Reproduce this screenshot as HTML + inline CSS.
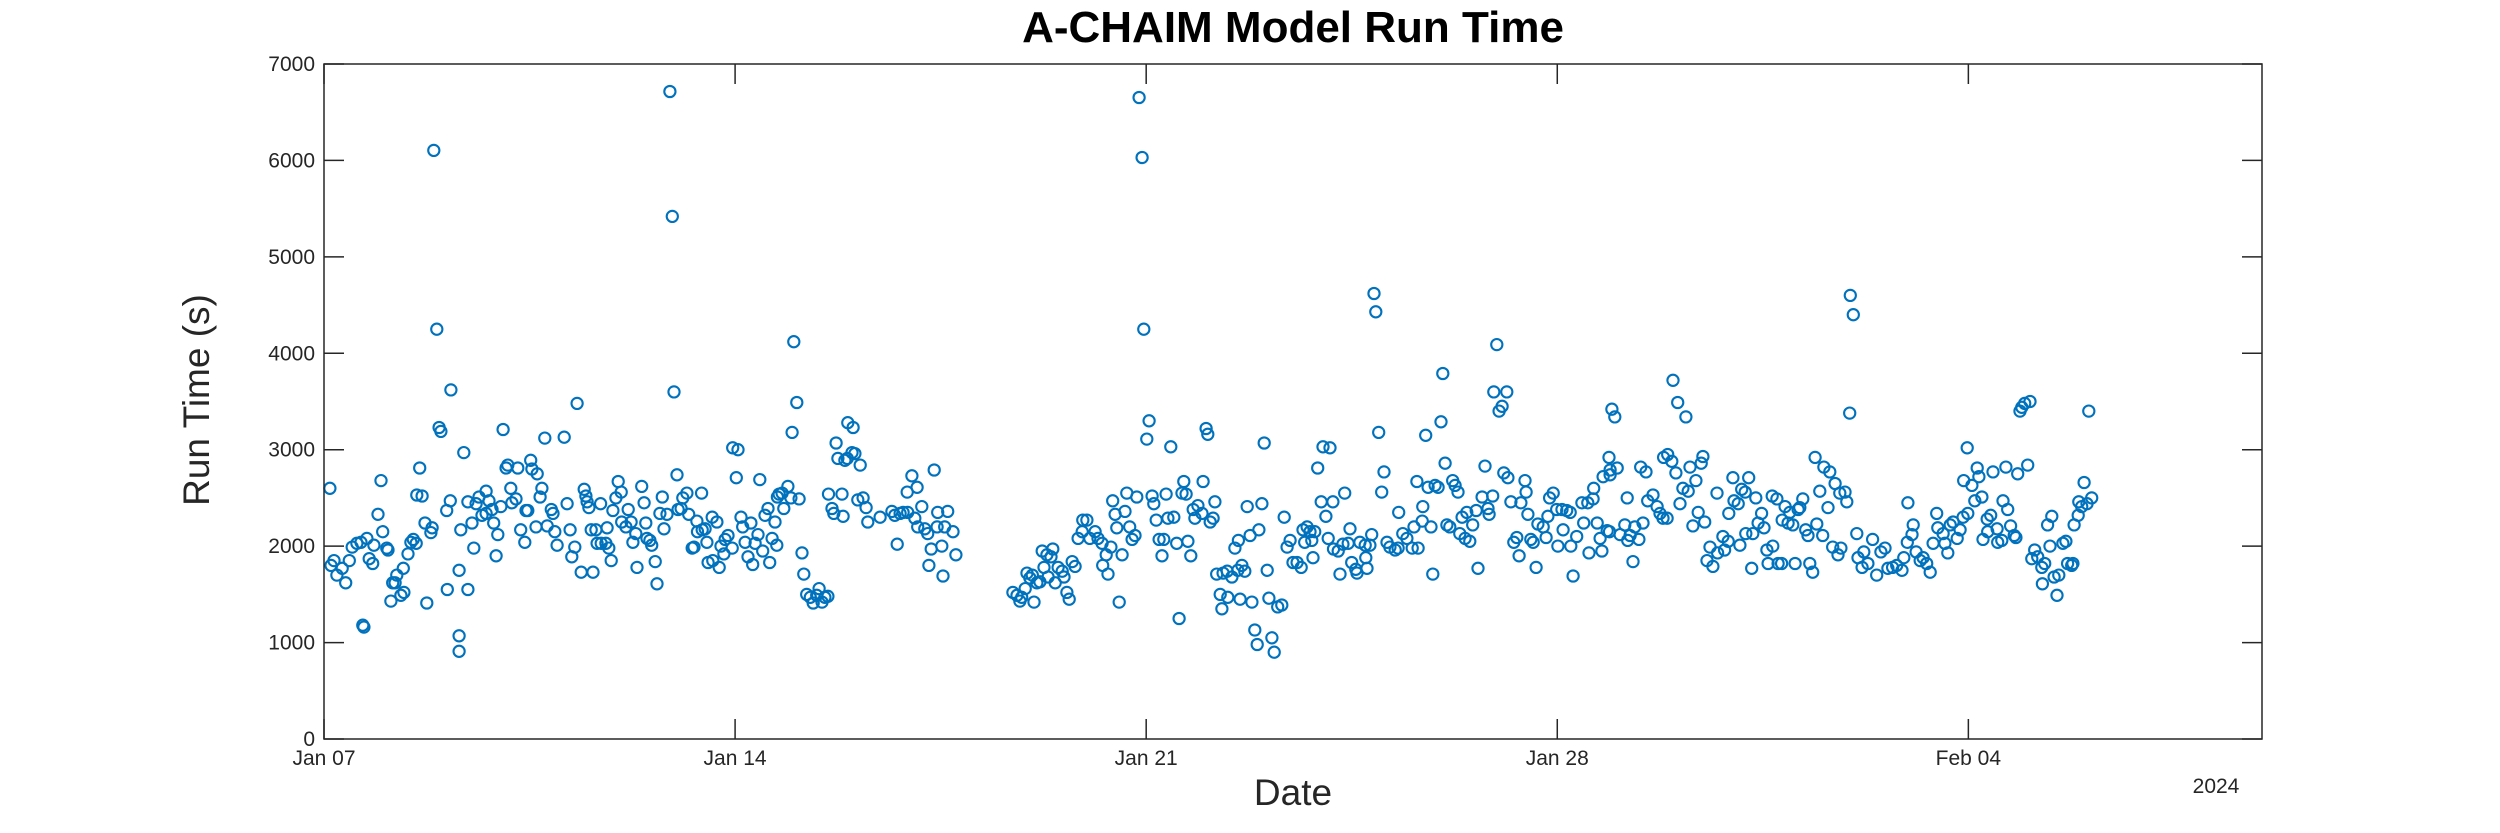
<!DOCTYPE html>
<html>
<head>
<meta charset="utf-8">
<style>
html,body{margin:0;padding:0;background:#fff;}
svg{display:block;font-family:"Liberation Sans",Arial,sans-serif;}
</style>
</head>
<body>
<svg id="chart" width="2500" height="833" viewBox="0 0 2500 833" xmlns="http://www.w3.org/2000/svg">
  <rect x="0" y="0" width="2500" height="833" fill="#ffffff"/>
  <text x="1293" y="42" text-anchor="middle" font-size="44" font-weight="bold" fill="#000">A-CHAIM Model Run Time</text>
  <g id="grid-ticks"></g>
  <g id="marks"></g>
  <rect x="324" y="64" width="1938" height="675" fill="none" stroke="#262626" stroke-width="1.5"/>
  <g id="labels"></g>
  <text x="1293" y="805" text-anchor="middle" font-size="37" fill="#262626">Date</text>
  <text x="2216" y="793" text-anchor="middle" font-size="21" fill="#262626">2024</text>
  <text transform="translate(209,400) rotate(-90)" text-anchor="middle" font-size="37" fill="#262626">Run Time (s)</text>
</svg>
<script>
// days since Jan 07 2024
const days = [
0.10,0.12,0.17,0.22,0.31,0.37,0.43,0.48,0.56,0.63,0.73,0.77,0.83,0.85,0.66,0.68,0.92,0.97,1.00,1.07,1.09,1.14,1.17,1.21,1.24,1.31,1.36,1.35,1.43,1.48,1.52,1.57,1.63,1.58,1.67,1.72,1.82,1.84,1.75,1.87,1.92,1.96,1.99,2.16,2.09,2.15,2.10,2.30,2.30,2.30,2.33,2.38,2.45,2.45,2.52,2.55,2.59,2.64,2.69,2.76,2.76,2.81,2.89,2.86,2.93,2.96,3.01,3.05,3.10,3.13,3.18,3.20,3.27,3.30,3.35,3.42,3.44,3.47,3.52,3.54,3.63,3.61,3.68,3.71,3.76,3.80,3.87,3.90,3.93,3.97,4.09,4.14,4.19,4.22,4.27,4.31,4.38,4.43,4.46,4.48,4.51,4.55,4.63,4.65,4.72,4.58,4.71,4.82,4.80,4.85,4.89,4.92,4.97,5.06,5.01,5.07,5.14,5.18,5.23,5.26,5.31,5.33,5.41,5.45,5.48,5.50,
5.55,5.58,5.64,5.67,5.76,5.72,5.84,5.79,5.89,5.93,5.96,6.01,6.03,6.08,6.11,6.18,6.21,6.35,6.27,6.30,6.36,6.44,6.49,6.43,6.52,6.54,6.62,6.73,6.61,6.69,6.76,6.83,6.88,6.81,6.95,6.96,7.05,7.02,7.10,7.13,7.17,7.27,7.22,7.30,7.34,7.39,7.42,7.47,7.51,7.56,7.59,7.63,7.71,7.68,7.72,7.75,7.80,7.83,7.90,7.95,8.09,7.97,8.00,8.05,8.14,8.17,8.22,8.28,8.33,8.39,8.43,8.48,8.53,8.58,8.59,8.65,8.68,8.82,8.84,8.72,8.75,8.87,8.91,8.99,9.04,9.13,8.92,9.01,9.09,9.18,9.23,9.26,9.47,9.67,9.72,9.81,9.86,9.94,9.76,9.93,10.01,10.10,10.06,10.18,10.11,10.23,10.28,10.34,10.30,10.39,10.45,10.62,10.44,10.57,10.71,10.52,10.54,10.76,
11.73,11.80,11.85,11.88,11.94,11.97,12.06,12.02,12.09,12.14,12.19,12.23,12.31,12.41,12.38,12.26,12.33,12.45,12.50,12.57,12.60,12.65,12.69,12.74,12.79,12.84,12.92,12.99,12.91,13.04,13.13,13.18,13.25,13.26,13.35,13.32,13.40,13.43,13.47,13.50,13.64,13.54,13.59,13.67,13.84,13.72,13.76,13.81,13.88,13.93,13.96,14.01,14.05,14.10,14.13,14.17,14.22,14.30,14.27,14.34,14.42,14.37,14.47,14.52,14.71,14.76,14.56,14.61,14.68,14.64,14.80,14.83,14.88,14.95,14.97,15.02,15.05,15.09,15.14,15.17,15.20,15.31,15.38,15.46,15.56,15.63,15.68,15.26,15.29,15.39,15.60,15.80,15.51,15.57,15.77,15.92,15.72,15.97,16.01,16.06,15.85,15.89,16.14,16.18,16.09,16.24,16.31,16.35,16.40,16.45,16.50,
16.57,16.64,16.67,16.74,16.79,16.87,16.70,16.82,16.84,16.92,17.01,17.13,16.98,17.18,17.06,17.10,17.19,17.27,17.35,17.44,17.30,17.38,17.47,17.50,17.57,17.59,17.64,17.73,17.81,17.84,17.74,17.76,17.88,17.91,17.96,18.05,18.01,18.10,18.15,18.24,18.29,18.37,18.44,18.53,18.63,18.30,18.56,18.70,18.85,18.61,18.71,18.76,18.80,18.92,18.97,18.88,19.02,19.05,19.09,19.12,19.17,19.22,19.26,19.31,19.34,19.43,19.51,19.56,19.38,19.46,19.62,19.65,19.72,19.90,19.77,19.82,19.84,19.92,19.97,20.14,20.01,20.06,20.09,20.16,20.21,20.26,20.31,20.35,20.38,20.45,20.47,20.50,20.55,20.59,20.64,20.67,20.76,20.84,20.81,20.87,20.93,20.99,21.08,21.16,21.22,21.01,21.23,21.10,21.27,21.33,21.42,21.52,21.61,21.45,21.68,21.85,21.54,21.76,21.62,21.73,21.78,21.88,21.90,21.93,21.98,
22.02,21.90,21.89,22.07,22.15,22.24,22.32,22.46,22.20,22.39,22.19,22.29,22.42,22.51,22.54,22.63,22.70,22.75,22.80,22.87,22.81,22.88,22.95,23.02,22.97,23.05,23.19,23.09,23.14,23.23,23.26,23.36,23.45,23.48,23.31,23.40,23.51,23.55,23.60,23.65,23.72,23.73,23.82,23.85,23.91,23.92,23.99,24.01,24.08,24.11,24.14,24.20,24.26,24.38,24.21,24.33,24.42,24.48,24.52,24.31,24.57,24.59,24.67,24.66,24.74,24.88,24.96,25.13,25.18,24.76,24.82,25.05,25.30,25.35,24.83,24.93,25.01,25.10,25.23,25.27,25.42,25.52,25.39,25.47,25.54,25.64,25.73,25.81,25.90,25.93,25.61,25.69,25.78,25.83,25.98,25.99,26.04,26.10,26.12,26.19,26.22,26.29,26.37,26.44,26.51,26.58,26.63,26.71,26.78,26.87,26.90,26.96,26.97,27.04,27.06,27.11,27.18,27.23,27.29,27.35,27.40,27.46,27.48,
27.60,27.65,27.57,27.69,27.74,27.81,27.86,27.91,27.99,27.92,28.06,28.11,28.15,28.18,28.23,27.98,28.25,28.32,28.38,28.33,28.49,28.50,28.57,28.42,28.64,28.84,29.01,28.59,28.67,28.72,28.78,28.81,28.88,28.91,28.96,29.05,29.08,29.13,29.18,29.25,29.30,29.26,29.35,29.42,29.39,29.46,29.54,29.51,29.61,29.66,29.69,29.76,29.78,29.80,29.87,29.88,29.93,30.02,30.10,29.97,30.05
];
// run time in seconds
const runTimes = [
2600,1800,1850,1700,1770,1620,1850,1990,2030,2040,2080,1870,1820,2010,1180,1160,2330,2680,2150,1980,1960,1430,1620,1620,1700,1490,1520,1770,1920,2040,2070,2030,2810,2530,2520,2240,2140,2190,1410,6104,4250,3230,3190,3620,2370,2470,1550,1750,1070,910,2170,2970,1550,2460,2240,1980,2440,2510,2320,2340,2570,2470,2240,2380,1900,2120,2410,3210,2810,2840,2600,2450,2490,2810,2170,2040,2370,2370,2890,2800,2750,2200,2510,2600,3120,2210,2380,2340,2150,2010,3130,2440,2170,1890,1990,3480,1730,2590,2520,2460,2400,2170,2170,2030,2030,1730,2440,2190,2030,1980,1850,2370,2500,2560,2670,2250,2200,2380,2250,2040,2130,1780,2620,2450,2240,2080,
2060,2010,1840,1610,2510,2340,2330,2180,6715,5420,3600,2740,2380,2390,2500,2550,2330,2260,1980,1990,2150,2170,2180,2550,2040,1830,1850,1780,2300,2250,2000,2070,2110,1920,1980,3020,3000,2710,2300,2200,2040,2240,1890,1810,2030,2120,2690,1950,2320,2390,1830,2080,2010,2250,2510,2540,2550,2390,2620,2500,2490,3180,4120,3490,1930,1710,1500,1470,1410,1490,1560,1420,1470,1480,2540,2390,2340,2540,2310,3070,2910,2890,2910,2970,2960,2840,3280,3230,2480,2500,2400,2250,2300,2360,2320,2340,2350,2350,2020,2560,2730,2610,2290,2410,2200,2180,2130,1970,1800,2790,2350,2360,2200,2200,2150,2000,1690,1910,
1520,1490,1430,1470,1560,1720,1700,1670,1420,1620,1630,1950,1910,1970,1890,1780,1680,1620,1780,1740,1680,1520,1450,1840,1790,2080,2270,2270,2150,2080,2150,2080,2030,1800,1710,1910,1990,2470,2330,2190,2360,1420,1910,2550,2510,2200,2070,2110,6653,6030,4250,3110,3300,2520,2440,2270,2070,2070,1900,2540,3030,2290,2300,2030,2050,1900,1250,2550,2540,2670,2380,2290,2420,2340,2670,3220,3160,2250,2290,2460,1710,1720,1740,1680,1750,1800,1740,1500,1350,1470,1450,1420,1980,2060,2110,2170,2410,2440,3070,1750,1130,980,1050,900,1460,1370,1390,2300,1990,2060,1830,
1830,1780,2170,2200,2150,2150,2040,2060,1880,2810,3030,3020,2460,2460,2310,2080,1970,1950,2020,2030,1710,2550,2180,1830,1760,1720,2040,2010,2010,2120,1880,1770,4620,4430,3180,2770,2560,2040,1990,1960,1980,2130,2080,1980,1980,2350,2200,2260,2200,2670,2410,3150,2610,2630,2610,1710,3290,3790,2860,2220,2200,2680,2630,2560,2130,2080,2050,2220,2300,2350,2370,1770,2510,2520,2830,2390,2330,3600,4090,3600,3400,3450,2760,2710,2460,2040,2090,1900,2450,2680,2560,2330,2070,2040,1780,2230,2200,2310,2090,2500,2550,2380,2380,2370,2350,2000,2000,2170,1690,2100,2450,2450,2490,2240,2240,2160,1930,1950,2600,2080,2720,2920,2790,3420,3340,
2810,2740,2150,2120,2220,2110,2200,2240,2060,2070,2500,1840,2820,2770,2470,2530,2410,2340,2290,2290,2920,2950,2880,2760,3720,3490,3340,2440,2600,2570,2820,2680,2860,2930,2210,2350,2250,1850,1990,1790,2550,1930,2100,1960,2050,2340,2710,2470,2440,2010,2590,2560,2710,2500,2130,2130,2240,2340,2190,1770,1960,1820,2000,2520,2490,2410,2350,2400,2490,1820,1820,1820,1820,1730,2270,2240,2220,2380,2170,2110,2230,2110,2920,2570,2820,2770,2650,2550,2560,2460,2400,1990,1910,1980,3380,4600,4400,2130,1880,1780,1940,1820,2070,1700,1940,1980,1770,1780,1800,1750,1880,2040,2450,2120,2220,1940,1850,1880,1820,1730,2030,2340,2190,
2030,1930,2130,2220,2250,2080,2170,2300,2340,2680,2630,2470,2810,2720,2510,3020,2070,2280,2320,2150,2180,2040,2060,2770,2820,2750,2840,2470,2380,2210,2110,2090,3400,3440,3480,3500,1870,1960,1890,1780,1820,1610,2220,2310,2000,1680,1700,1490,2030,2050,1820,1800,1820,2220,2320,2460,2410,2440,2500,2660,3400
];
const yTickValues = [0,1000,2000,3000,4000,5000,6000,7000];
const xTickDays = [0,7,14,21,28];
const xTickLabels = ["Jan 07","Jan 14","Jan 21","Jan 28","Feb 04"];

const PL=324, PR=2262, PT=64, PB=739;
const DAY_MAX=33, Y_MAX=7000;
function xScale(d){ return PL + d/DAY_MAX*(PR-PL); }
function yScale(v){ return PB - v/Y_MAX*(PB-PT); }
const NS="http://www.w3.org/2000/svg";

const ticks=document.getElementById('grid-ticks');
const labels=document.getElementById('labels');
const marks=document.getElementById('marks');

yTickValues.forEach(function(v){
  const y=yScale(v);
  const t1=document.createElementNS(NS,'line');
  t1.setAttribute('x1',PL);t1.setAttribute('x2',PL+20);t1.setAttribute('y1',y);t1.setAttribute('y2',y);
  t1.setAttribute('stroke','#262626');t1.setAttribute('stroke-width','1.5');
  
  
  ticks.appendChild(t1);
  const t2=document.createElementNS(NS,'line');
  t2.setAttribute('x1',PR-20);t2.setAttribute('x2',PR);t2.setAttribute('y1',y);t2.setAttribute('y2',y);
  t2.setAttribute('stroke','#262626');t2.setAttribute('stroke-width','1.5');
  
  
  ticks.appendChild(t2);
  const tx=document.createElementNS(NS,'text');
  tx.setAttribute('x',PL-9);tx.setAttribute('y',y+7);
  tx.setAttribute('text-anchor','end');tx.setAttribute('font-size','21');tx.setAttribute('fill','#262626');
  tx.textContent=String(v);
  
  
  labels.appendChild(tx);
});

xTickDays.forEach(function(d,i){
  const x=xScale(d);
  const t1=document.createElementNS(NS,'line');
  t1.setAttribute('x1',x);t1.setAttribute('x2',x);t1.setAttribute('y1',PB-20);t1.setAttribute('y2',PB);
  t1.setAttribute('stroke','#262626');t1.setAttribute('stroke-width','1.5');
  
  
  ticks.appendChild(t1);
  const t2=document.createElementNS(NS,'line');
  t2.setAttribute('x1',x);t2.setAttribute('x2',x);t2.setAttribute('y1',PT);t2.setAttribute('y2',PT+20);
  t2.setAttribute('stroke','#262626');t2.setAttribute('stroke-width','1.5');
  
  
  ticks.appendChild(t2);
  const tx=document.createElementNS(NS,'text');
  tx.setAttribute('x',x);tx.setAttribute('y',PB+26);
  tx.setAttribute('text-anchor','middle');tx.setAttribute('font-size','21');tx.setAttribute('fill','#262626');
  tx.textContent=xTickLabels[i];
  
  
  labels.appendChild(tx);
});

const n=Math.min(days.length,runTimes.length);
for(let i=0;i<n;i++){
  const c=document.createElementNS(NS,'circle');
  c.setAttribute('cx',xScale(days[i]).toFixed(1));
  c.setAttribute('cy',yScale(runTimes[i]).toFixed(1));
  c.setAttribute('r','5.6');
  c.setAttribute('fill','none');
  c.setAttribute('stroke','#0072BD');
  c.setAttribute('stroke-width','2.1');
  
  
  marks.appendChild(c);
}
</script>
</body>
</html>
